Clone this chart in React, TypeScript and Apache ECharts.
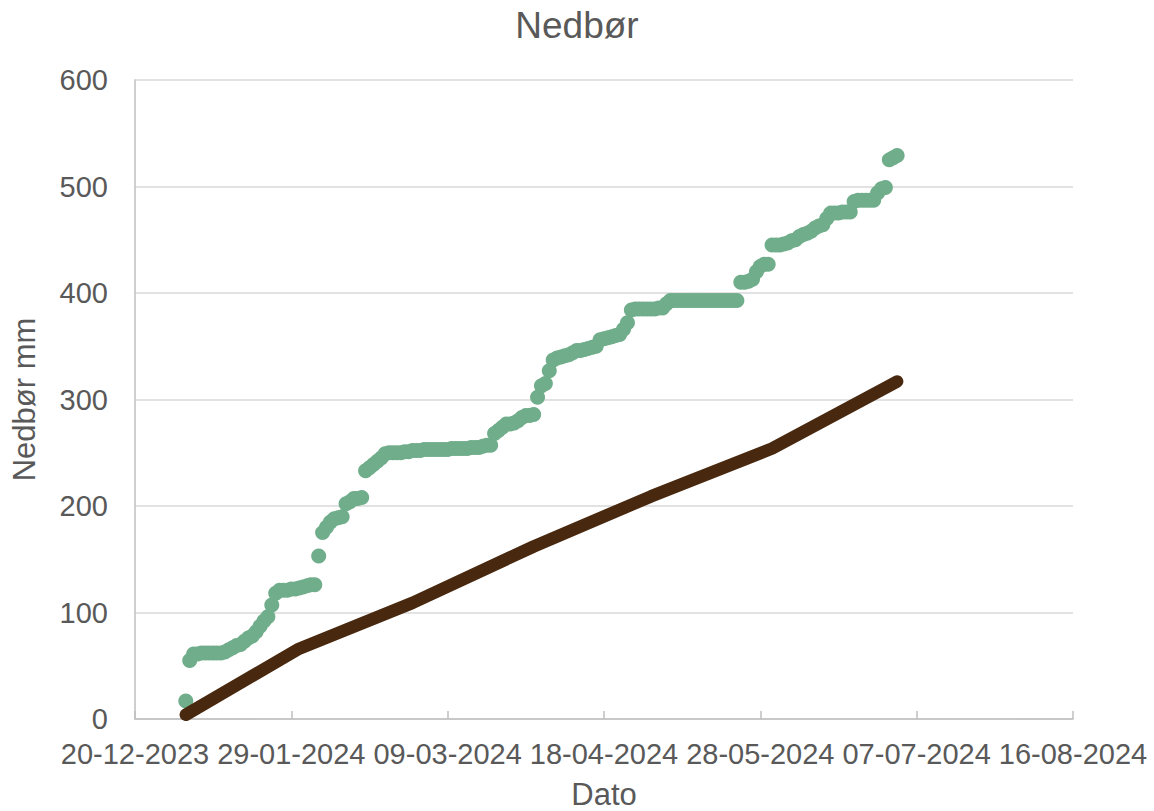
import React, { useEffect, useRef } from "react";
import * as echarts from "echarts";

// ---- data ----
const TITLE = "Nedbør";
const X_NAME = "Dato";
const Y_NAME = "Nedbør mm";
const AXIS_START = "2023-12-20";
const X_MIN_DAYS = 0;
const X_MAX_DAYS = 240;
const X_STEP_DAYS = 40;
const Y_MIN = 0;
const Y_MAX = 600;
const Y_STEP = 100;

// daily cumulative precipitation, first value on this date
const measuredStart = "2024-01-02";
const measuredValues = [
  17, 55,
  61, 61, 62, 62, 62, 62, 62, 62,
  63, 65, 67, 69, 70, 73, 76, 78, 82, 87, 92, 96, 107, 118,
  121, 121, 121, 122, 122, 123, 124, 125, 126, 126,
  153, 175, 180, 185, 188, 189, 190, 202, 204, 207, 207, 208,
  233, 236, 239, 242, 245, 249, 250, 250, 250, 250,
  251, 251, 252, 252, 252, 253, 253, 253, 253, 253,
  253, 253, 254, 254, 254, 254, 254, 255, 255, 255,
  256, 257, 257, 268, 271, 274, 277, 277, 278, 280, 283, 285, 285, 286,
  302, 313, 315, 327, 337, 339, 340, 341, 342, 344, 346, 346,
  347, 348, 349, 350, 356, 357, 358, 359, 360, 361, 366, 372, 384,
  385, 385, 385, 385, 385, 385, 386, 386, 390,
  393, 393, 393, 393, 393, 393, 393, 393, 393, 393, 393, 393, 393, 393, 393, 393, 393, 393,
  410, 410, 411, 413, 420, 425, 427, 427,
  445, 445, 445, 446, 447, 449, 450, 453, 455, 456, 458, 461, 463, 464,
  470, 475, 475, 475, 476, 476, 476, 486, 487, 487, 487, 487, 487,
  494, 498, 499, 525, 527, 529,
];

// normal cumulative precipitation (month ends)
const normalDates = [
  "2024-01-02", "2024-01-31", "2024-02-29", "2024-03-31",
  "2024-04-30", "2024-05-31", "2024-06-30", "2024-07-02",
];
const normalValues = [4, 66, 109, 162, 209, 254, 313, 317];

// ---- helpers ----
const DAY = 86400000;
const toUTC = (s: string) => {
  const [y, m, d] = s.split("-").map(Number);
  return Date.UTC(y, m - 1, d);
};
const base = toUTC(AXIS_START);
const dayOffset = (s: string) => Math.round((toUTC(s) - base) / DAY);
const fmtDay = (v: number) => {
  const dt = new Date(base + v * DAY);
  const dd = String(dt.getUTCDate()).padStart(2, "0");
  const mm = String(dt.getUTCMonth() + 1).padStart(2, "0");
  return `${dd}-${mm}-${dt.getUTCFullYear()}`;
};

const FONT = "'Liberation Sans', Arial, sans-serif";
const TXT = "#595959";

export default function App() {
  const ref = useRef<HTMLDivElement>(null);
  useEffect(() => {
    if (!ref.current) return;
    const chart = echarts.init(ref.current, undefined, { renderer: "svg" });
    const start = dayOffset(measuredStart);
    const measured = measuredValues.map((v, i) => [start + i, v]);
    const normal = normalDates.map((d, i) => [dayOffset(d), normalValues[i]]);
    chart.setOption({
      animation: false,
      backgroundColor: "#ffffff",
      textStyle: { fontFamily: FONT },
      title: {
        text: TITLE,
        left: "center",
        top: 2,
        textStyle: { fontFamily: FONT, fontSize: 37, fontWeight: "normal", color: TXT },
      },
      grid: { left: 135, right: 81, top: 80, bottom: 92, containLabel: false, outerBoundsMode: "none" },
      xAxis: {
        type: "value",
        min: X_MIN_DAYS,
        max: X_MAX_DAYS,
        interval: X_STEP_DAYS,
        name: X_NAME,
        nameLocation: "middle",
        nameGap: 60,
        nameTextStyle: { fontFamily: FONT, fontSize: 31, lineHeight: 31, color: TXT },
        axisLine: { show: true, lineStyle: { color: "#bfbfbf", width: 1.5 } },
        axisTick: { show: true, inside: true, length: 8, lineStyle: { color: "#bfbfbf", width: 1.5 } },
        splitLine: { show: false },
        axisLabel: {
          formatter: (v: number) => fmtDay(v),
          fontFamily: FONT,
          fontSize: 29,
          color: TXT,
          margin: 20,
          hideOverlap: false,
          showMinLabel: true,
          showMaxLabel: true,
        },
      },
      yAxis: {
        type: "value",
        min: Y_MIN,
        max: Y_MAX,
        interval: Y_STEP,
        name: Y_NAME,
        nameLocation: "middle",
        nameGap: 95,
        nameRotate: 90,
        nameTextStyle: { fontFamily: FONT, fontSize: 31, color: TXT },
        axisLine: { show: true, lineStyle: { color: "#bfbfbf", width: 1.5 } },
        axisTick: { show: false },
        splitLine: { show: true, lineStyle: { color: "#d9d9d9", width: 1.5 } },
        axisLabel: { fontFamily: FONT, fontSize: 29, color: TXT, margin: 27 },
      },
      series: [
        {
          type: "scatter",
          data: measured,
          symbol: "circle",
          symbolSize: 15,
          itemStyle: { color: "#70ad8b", opacity: 1 },
          z: 2,
        },
        {
          type: "line",
          data: normal,
          showSymbol: false,
          symbol: "none",
          lineStyle: { color: "#48290f", width: 12.5, cap: "round", join: "round" },
          z: 3,
        },
      ],
    });
    return () => chart.dispose();
  }, []);
  return (
    <div
      ref={ref}
      style={{ position: "absolute", left: 0, top: 0, width: 1154, height: 811 }}
    />
  );
}
